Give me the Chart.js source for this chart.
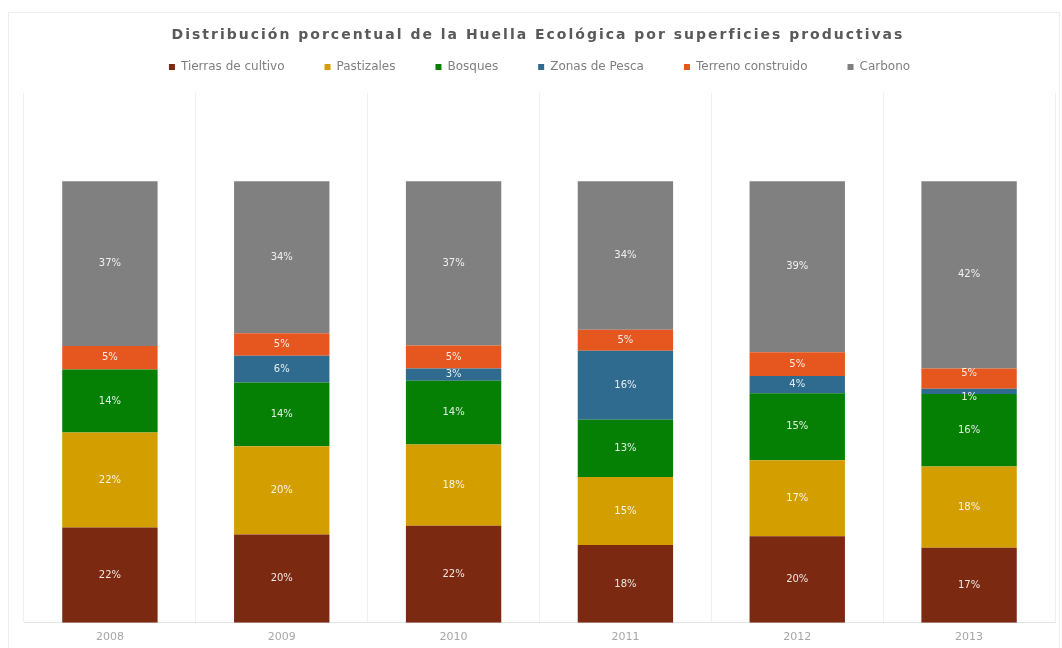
<!DOCTYPE html>
<html>
<head>
<meta charset="utf-8">
<script src="https://cdn.jsdelivr.net/npm/chart.js@4"></script>
<style>
  html, body { margin: 0; padding: 0; background: #fff; overflow: hidden; }
  #wrap { width: 1062px; height: 648px; position: relative; overflow: hidden; }
</style>
</head>
<body>
<div id="wrap"><canvas id="chart" width="1062" height="654"></canvas></div>
<script>
const years = ["2008", "2009", "2010", "2011", "2012", "2013"];

// % of each year's footprint (rounded labels as read, decimals from bar heights)
const tierrasCultivo = [21.6, 20.0, 22.0, 17.6, 19.6, 17.0];
const pastizales = [21.5, 20.0, 18.4, 15.4, 17.2, 18.4];
const bosques = [14.3, 14.4, 14.4, 13.0, 15.2, 16.4];
const zonasPesca = [0, 6.1, 2.8, 15.6, 3.9, 1.2];
const terrenoConstruido = [5.3, 5.1, 5.2, 4.8, 5.4, 4.6];
const carbono = [37.3, 34.4, 37.2, 33.6, 38.7, 42.4];

const seriesNames = ["Tierras de cultivo", "Pastizales", "Bosques", "Zonas de Pesca", "Terreno construido", "Carbono"];
const seriesColors = ["#7b2910", "#d29e00", "#058005", "#2f6b8f", "#e6561f", "#808080"];
const titleText = "Distribución porcentual de la Huella Ecológica por superficies productivas";

const allSeries = [tierrasCultivo, pastizales, bosques, zonasPesca, terrenoConstruido, carbono];

// title drawn by hand so it can be letter-spaced like the original
const titlePlugin = {
    id: "spacedTitle",
    beforeDraw(chart) {
        const ctx = chart.ctx;
        ctx.save();
        ctx.strokeStyle = "#ededed";
        ctx.lineWidth = 1;
        ctx.strokeRect(8.5, 12.5, 1051, 700);
        ctx.font = "bold 14px 'DejaVu Sans'";
        ctx.fillStyle = "#595959";
        ctx.textAlign = "center";
        ctx.textBaseline = "middle";
        ctx.letterSpacing = "2px";
        ctx.fillText(titleText, 538, 35);
        ctx.restore();
    }
};

// percentage labels in the middle of each segment
const segmentLabels = {
    id: "segmentLabels",
    afterDatasetsDraw(chart) {
        const ctx = chart.ctx;
        ctx.save();
        ctx.font = "10px 'DejaVu Sans'";
        ctx.textAlign = "center";
        ctx.textBaseline = "middle";
        ctx.fillStyle = "rgba(255,255,255,0.88)";
        years.forEach((y, i) => {
            const items = [];
            chart.data.datasets.forEach((ds, d) => {
                const v = ds.data[i];
                if (!v) return;
                const bar = chart.getDatasetMeta(d).data[i];
                items.push({ x: bar.x, y: (bar.y + bar.base) / 2, text: Math.round(v) + "%" });
            });
            // push apart labels that would overlap
            for (let k = 1; k < items.length; k++) {
                const a = items[k - 1], b = items[k];
                if (a.y - b.y < 14) {
                    const mid = (a.y + b.y) / 2;
                    a.y = mid + 12;
                    b.y = mid - 12;
                }
            }
            items.forEach(it => ctx.fillText(it.text, it.x, it.y));
        });
        ctx.restore();
    }
};

const ctx = document.getElementById("chart").getContext("2d");
new Chart(ctx, {
    type: "bar",
    data: {
        labels: years,
        datasets: seriesNames.map((name, i) => ({
            label: name,
            data: allSeries[i],
            backgroundColor: seriesColors[i],
            borderWidth: 0,
            barPercentage: 0.555,
            categoryPercentage: 1
        }))
    },
    options: {
        responsive: false,
        animation: false,
        layout: { padding: { top: 21, left: 24, right: 7, bottom: 2 } },
        plugins: {
            title: { display: false },
            tooltip: { enabled: false },
            legend: {
                position: "top",
                labels: {
                    boxWidth: 6,
                    boxHeight: 6,
                    padding: 40,
                    color: "#7f7f7f",
                    font: { family: "'DejaVu Sans'", size: 12 }
                }
            }
        },
        scales: {
            x: {
                stacked: true,
                grid: { color: "#f0f0f0", drawTicks: false },
                border: { color: "#e4e4e4" },
                ticks: { color: "#a6a6a6", padding: 8, font: { family: "'DejaVu Sans'", size: 11 } }
            },
            xTop: {
                type: "category",
                labels: years,
                position: "top",
                grid: { display: false },
                border: { display: false },
                ticks: { display: false },
                afterFit(scale) { scale.height = 10; }
            },
            y: {
                stacked: true,
                display: false,
                min: 0,
                max: 120
            }
        }
    },
    plugins: [titlePlugin, segmentLabels]
});
</script>
</body>
</html>
